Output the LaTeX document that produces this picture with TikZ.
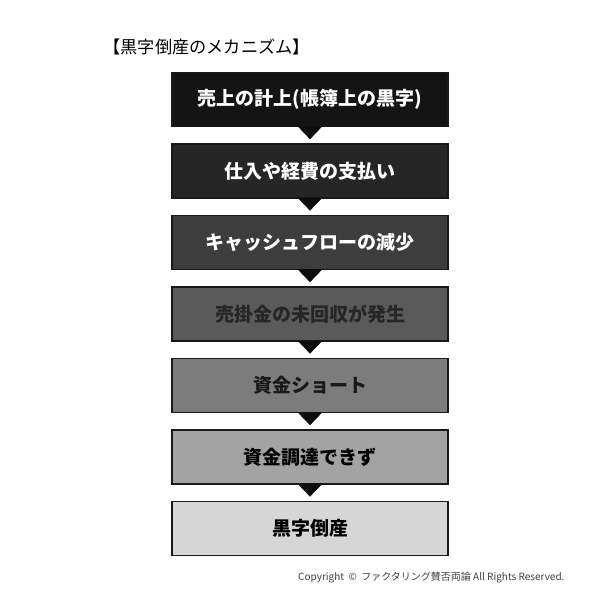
\documentclass[tikz,border=0pt]{standalone}
\usepackage{fontspec}
\setmainfont{Noto Sans CJK JP}
\usetikzlibrary{arrows.meta}

\definecolor{stepA}{HTML}{141414}
\definecolor{stepB}{HTML}{262626}
\definecolor{stepC}{HTML}{3D3D3D}
\definecolor{stepD}{HTML}{5A5A5A}
\definecolor{stepE}{HTML}{7C7C7C}
\definecolor{stepF}{HTML}{A3A3A3}
\definecolor{stepG}{HTML}{D6D6D6}

\tikzset{
  stepbox/.style={draw=black!90, line width=1.2pt, minimum width=276pt, minimum height=54pt,
    inner sep=0pt, font=\fontsize{19}{21}\selectfont\bfseries},
  tri/.style={-{Triangle[width=25pt,length=13pt]}, line width=0.4pt, black!95, shorten >=4.3pt}
}

\begin{document}
\begin{tikzpicture}[x=1pt,y=-1pt]
\useasboundingbox [fill=white] (0,0) rectangle (600,615);
\node [anchor=west, font=\fontsize{17.2}{19}\selectfont] (title) at (100,47) {【黒字倒産のメカニズム】};
\node [stepbox, fill=stepA, text=white] (b1) at (310,99.5) {売上の計上(帳簿上の黒字)};
\node [stepbox, fill=stepB, text=white] (b2) at (310,171) {仕入や経費の支払い};
\node [stepbox, fill=stepC, text=white] (b3) at (310,242.5) {キャッシュフローの減少};
\node [stepbox, fill=stepD, text=black!85] (b4) at (310,314) {売掛金の未回収が発生};
\node [stepbox, fill=stepE, text=black!90] (b5) at (310,385.5) {資金ショート};
\node [stepbox, fill=stepF, text=black] (b6) at (310,457) {資金調達できず};
\node [stepbox, fill=stepG, text=black] (b7) at (310,528.5) {黒字倒産};
\draw [tri] (b1) -- (b2);
\draw [tri] (b2) -- (b3);
\draw [tri] (b3) -- (b4);
\draw [tri] (b4) -- (b5);
\draw [tri] (b5) -- (b6);
\draw [tri] (b6) -- (b7);
\node [anchor=east, font=\fontsize{10}{12}\selectfont, text=black!75] (copy) at (568,578) {Copyright \ © \ ファクタリング賛否両論 All Rights Reserved.};
\end{tikzpicture}
\end{document}
